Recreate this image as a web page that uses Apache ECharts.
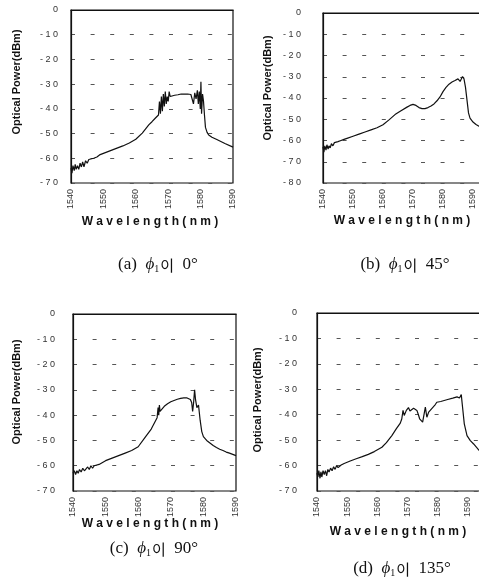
<!DOCTYPE html>
<html>
<head>
<meta charset="utf-8">
<script src="https://cdn.jsdelivr.net/npm/echarts@6/dist/echarts.min.js"></script>
<style>
  html, body { margin: 0; padding: 0; background: #fff; overflow: hidden; }
  #chart { width: 492px; height: 583px; }
</style>
</head>
<body>
<div id="chart"></div>
<script>
// (a) phi = 0
const wlA = [1540, 1540.3, 1540.6, 1541, 1541.3, 1541.6, 1542, 1542.4, 1542.8, 1543.2, 1543.6, 1544, 1544.5, 1545, 1545.5, 1546, 1547, 1548, 1549, 1550, 1552, 1554, 1556, 1558, 1560, 1562, 1564, 1565, 1566, 1566.5, 1567, 1567.3, 1567.6, 1567.9, 1568.2, 1568.5, 1568.8, 1569.1, 1569.4, 1569.7, 1570, 1570.3, 1570.6, 1571, 1572, 1573, 1574, 1575, 1576, 1577, 1577.4, 1577.8, 1578.2, 1578.6, 1579, 1579.3, 1579.6, 1579.9, 1580.1, 1580.3, 1580.6, 1580.9, 1581.2, 1581.5, 1582, 1582.5, 1583.5, 1585, 1587.5, 1590]
const pwA = [-64, -66, -63, -65, -62.5, -64.5, -63, -64.5, -62, -63.5, -61.5, -63.5, -61, -62, -60.5, -61, -60, -59.5, -58.5, -58, -57, -56, -55, -53.8, -52.3, -49.8, -46.5, -45.2, -43.8, -43, -42.5, -37, -42, -35, -41, -34, -39, -33, -38, -35, -37, -33, -35, -34.5, -34.5, -34.3, -34, -34, -34, -34.2, -35, -38, -33.5, -36, -32.5, -38, -33, -40, -29, -42, -34, -37, -42.6, -47.5, -49.5, -50.6, -51.5, -52.4, -54, -55.5]

// (b) phi = 45
const wlB = [1540, 1540.3, 1540.6, 1541, 1541.3, 1541.7, 1542, 1542.4, 1542.8, 1543.3, 1543.8, 1544.3, 1545, 1546, 1547, 1548, 1550, 1552, 1554, 1556, 1558, 1560, 1562, 1564, 1566, 1568, 1569, 1570, 1571, 1572, 1573, 1574, 1575, 1576, 1577, 1578, 1579, 1580, 1581, 1582, 1583, 1584, 1585, 1585.7, 1586.5, 1587, 1587.5, 1588, 1588.5, 1589, 1590, 1591, 1592, 1593]
const pwB = [-63, -65.5, -62.5, -64.5, -62, -64, -62.5, -63.5, -61.5, -62.5, -61, -61.5, -60.5, -60, -59.5, -59, -58, -57, -56, -55, -54, -52.6, -50.3, -47.8, -46, -44.3, -43.5, -43, -43.5, -44.5, -45, -45, -44.5, -43.8, -42.8, -41.3, -39.5, -37, -35, -33.5, -32.5, -31.8, -31, -32.2, -29.9, -31, -35, -41, -47, -49.5, -51.3, -52.5, -53.3, -54]

// (c) phi = 90
const wlC = [1540, 1540.4, 1540.8, 1541.2, 1541.6, 1542, 1542.5, 1543, 1543.5, 1544, 1544.5, 1545, 1545.5, 1546, 1546.5, 1547, 1548, 1550, 1552, 1554, 1556, 1558, 1560, 1562, 1564, 1565, 1565.8, 1566.1, 1566.3, 1566.5, 1566.7, 1567, 1568, 1569, 1570, 1571, 1572, 1573, 1574, 1575, 1576, 1576.4, 1576.7, 1577, 1577.3, 1577.6, 1578, 1578.5, 1579, 1579.5, 1580, 1581, 1582, 1583, 1584, 1585, 1586, 1587, 1588, 1589, 1590]
const pwC = [-63, -62, -63.5, -62, -63, -61.5, -62.5, -61, -62, -61.5, -60.5, -61.5, -60, -61, -60, -60.5, -59.5, -58, -57, -56, -55, -54, -52.5, -49, -45.5, -43, -41, -37, -40, -36, -38.5, -38, -36.5, -35.5, -34.7, -34.2, -33.7, -33.4, -33.2, -33.2, -33.8, -35, -38.5, -35, -30, -34, -37, -36, -42, -46.5, -48.5, -50, -51, -52, -52.8, -53.5, -54, -54.6, -55, -55.5, -56]

// (d) phi = 135
const wlD = [1540, 1540.3, 1540.6, 1541, 1541.3, 1541.6, 1542, 1542.4, 1542.8, 1543.2, 1543.6, 1544, 1544.5, 1545, 1545.5, 1546, 1546.5, 1547, 1548, 1549, 1551, 1553, 1555, 1557, 1559, 1561.5, 1563, 1564.8, 1566.3, 1567.6, 1568.1, 1568.5, 1568.9, 1569.6, 1570.3, 1570.8, 1571.4, 1572, 1572.5, 1573.1, 1573.6, 1574, 1575, 1575.5, 1575.9, 1576.4, 1577, 1577.5, 1578.1, 1578.6, 1579.2, 1579.7, 1581, 1583, 1585, 1586.4, 1587.2, 1587.8, 1588.1, 1588.8, 1589.7, 1590.8, 1591.9, 1593.7, 1595]
const pwD = [-63, -64.5, -62, -65, -62.5, -64.5, -62, -63.5, -62, -64, -61.5, -62.5, -61, -62, -60.5, -61.5, -60, -60.8, -59.8, -59.2, -58.2, -57.3, -56.5, -55.6, -54.5, -52.8, -51, -48.2, -45.5, -43.3, -41.6, -38.3, -40.3, -38.3, -37.2, -38.5, -38, -37.5, -37, -38.3, -40, -41.6, -42.9, -42.5, -37, -41, -39, -39.6, -37.5, -38.2, -36, -35.1, -34.8, -34.1, -33.5, -33, -33.4, -32.1, -35.6, -43.6, -48.2, -50.2, -51.5, -54, -55]

const chart = echarts.init(document.getElementById('chart'))

const tickFont = { fontSize: 9, color: '#333', fontFamily: 'Liberation Sans' }
const dbLabel = v => v === 0 ? '0' : '- ' + String(-v).split('').join(' ')

const panels = [
  { grid: { left: 71, top: 10, width: 162, height: 173 }, xMax: 1590, yMin: -70, yMargin: 13, wl: wlA, pw: pwA },
  { grid: { left: 323, top: 13, width: 159, height: 170 }, xMax: 1593, yMin: -80, yMargin: 22, wl: wlB, pw: pwB },
  { grid: { left: 73, top: 314, width: 163, height: 177 }, xMax: 1590, yMin: -70, yMargin: 18, wl: wlC, pw: pwC },
  { grid: { left: 317, top: 313, width: 166, height: 178 }, xMax: 1595, yMin: -70, yMargin: 20, wl: wlD, pw: pwD }
]

const xName = 'W a v e l e n g t h ( n m )'
const yName = 'Optical Power(dBm)'

const textEl = (x, y, text, rotate) => ({
  type: 'text',
  x: x,
  y: y,
  rotation: rotate ? Math.PI / 2 : 0,
  style: {
    text: text,
    font: rotate ? 'bold 11px "Liberation Sans"' : 'bold 12px "Liberation Sans"',
    fill: '#111',
    align: 'center',
    verticalAlign: 'middle',
    textAlign: 'center',
    textVerticalAlign: 'middle'
  }
})

const captionEl = (x, y, tag, angle) => ({
  type: 'text',
  x: x,
  y: y,
  style: {
    text: tag + '  {p|ϕ}{s|1}{k|이}  ' + angle + '°',
    font: '17px "Liberation Serif"',
    fill: '#111',
    align: 'center',
    verticalAlign: 'middle',
    textAlign: 'center',
    textVerticalAlign: 'middle',
    rich: {
      p: { font: 'italic 17px "Liberation Serif"', fill: '#111' },
      s: { font: '10px "Liberation Serif"', fill: '#111', padding: [9, 1, 0, 0] },
      k: { font: '15px "Noto Sans CJK KR"', fill: '#111' }
    }
  }
})

const option = {
  animation: false,
  backgroundColor: '#fff',
  grid: panels.map(p => Object.assign({ show: true, borderColor: '#111', borderWidth: 1.2 }, p.grid)),
  xAxis: panels.map((p, i) => ({
    type: 'value',
    gridIndex: i,
    min: 1540,
    max: p.xMax,
    interval: 10,
    axisLine: { show: true, lineStyle: { color: '#111', width: 1.2 } },
    axisTick: { show: false },
    splitLine: { show: false },
    axisLabel: Object.assign({ rotate: 90, margin: 6, showMaxLabel: p.xMax === 1590, formatter: v => String(v) }, tickFont)
  })),
  yAxis: panels.map((p, i) => ({
    type: 'value',
    gridIndex: i,
    min: p.yMin,
    max: 0,
    interval: 10,
    axisLine: { show: true, lineStyle: { color: '#111', width: 1.2 } },
    axisTick: { show: false },
    splitLine: { show: true, lineStyle: { color: '#555', width: 1, type: [4, 15.6] } },
    axisLabel: Object.assign({ margin: p.yMargin, formatter: dbLabel }, tickFont)
  })),
  series: panels.map((p, i) => ({
    type: 'line',
    xAxisIndex: i,
    yAxisIndex: i,
    showSymbol: false,
    clip: true,
    lineStyle: { color: '#111', width: 1.2 },
    data: p.wl.map((w, j) => [w, p.pw[j]])
  })),
  graphic: [
    textEl(17, 82, yName, true),
    textEl(268, 88, yName, true),
    textEl(17, 392, yName, true),
    textEl(258, 400, yName, true),
    textEl(150, 222, xName, false),
    textEl(402, 221, xName, false),
    textEl(150, 524, xName, false),
    textEl(398, 532, xName, false),
    captionEl(158, 265, '(a)', '0'),
    captionEl(405, 265, '(b)', '45'),
    captionEl(154, 549, '(c)', '90'),
    captionEl(402, 569, '(d)', '135')
  ]
}

chart.setOption(option)
</script>
</body>
</html>
